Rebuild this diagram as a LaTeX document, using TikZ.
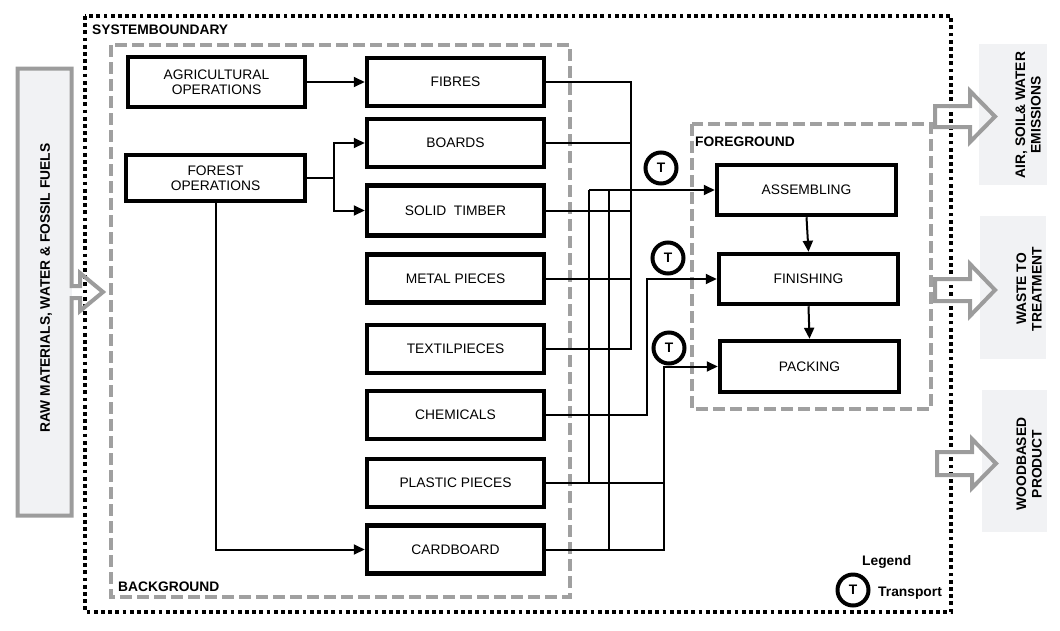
\documentclass[tikz,border=0pt]{standalone}
\usepackage{fontspec}
\setmainfont{Liberation Sans}
\usetikzlibrary{arrows.meta}
\newcommand{\lblfont}{\fontsize{13.8}{15.5}\selectfont}
\definecolor{dashgray}{HTML}{A0A0A0}
\definecolor{arrgray}{HTML}{9C9C9C}
\definecolor{boxfill}{HTML}{F1F2F4}
\begin{document}
\begin{tikzpicture}[x=1pt,y=-1pt,
  proc/.style={draw, line width=4.5pt, minimum width=177pt, minimum height=48pt, inner sep=0pt, align=center, font=\lblfont},
  conn/.style={line width=2pt},
  arr/.style={conn, -{Triangle[length=11pt,width=10pt]}},
  tcirc/.style={circle, draw, line width=4pt, minimum size=31pt, inner sep=0pt, font=\bfseries\lblfont},
  sysline/.style={line width=3.8pt, dash pattern=on 3.8pt off 3.4pt},
  grpline/.style={draw=dashgray, line width=4pt, dash pattern=on 12pt off 5pt},
  bigarrow/.style={draw=arrgray, line width=4pt, line join=miter},
  outbox/.style={fill=boxfill, draw=none},
  bold/.style={font=\bfseries\lblfont, inner sep=0pt},
  rotlbl/.style={rotate=90, align=center, font=\bfseries\lblfont, inner sep=0pt}
]
\useasboundingbox (0,0) rectangle (1060,630);

% system boundary and groups
\draw[sysline] (85,16) rectangle (951,612);
\draw[grpline] (111,45) rectangle (570,597);
\draw[grpline] (692,124) rectangle (931,409);
\node[bold, anchor=base west] (sysl) at (92,34) {SYSTEMBOUNDARY};
\node[bold, anchor=base west] (bgl) at (118,591) {BACKGROUND};
\node[bold, anchor=base west] (fgl) at (695,146) {FOREGROUND};

% input box with arrow
\fill[boxfill] (17.5,68.5) rectangle (71.5,515.5);
\draw[bigarrow] (71.5,286) -- (71.5,68.5) -- (17.5,68.5) -- (17.5,515.5) -- (71.5,515.5) -- (71.5,298)
  -- (80,298) -- (80,311) -- (103,292) -- (80,273) -- (80,286) -- cycle;
\node[rotlbl] (rawl) at (46,288) {RAW MATERIALS, WATER \& FOSSIL FUELS};

% output boxes
\fill[outbox] (979,44) rectangle (1047,185);
\fill[outbox] (980,216) rectangle (1046,359);
\fill[outbox] (982,390) rectangle (1047,532);
\node[rotlbl] (airl) at (1028,115) {AIR, SOIL\& WATER\\EMISSIONS};
\node[rotlbl] (wastel) at (1029,289) {WASTE TO\\TREATMENT};
\node[rotlbl] (woodl) at (1029,464) {WOODBASED\\PRODUCT};

% output arrows
\draw[bigarrow] (935,106) -- (970,106) -- (970,91) -- (995,116.5) -- (970,142) -- (970,127) -- (935,127) -- cycle;
\draw[bigarrow] (935,279) -- (970,279) -- (970,264) -- (995,290) -- (970,316) -- (970,301) -- (935,301) -- cycle;
\draw[bigarrow] (937,452) -- (972,452) -- (972,439) -- (996,463.5) -- (972,488) -- (972,475) -- (937,475) -- cycle;

% process boxes
\node[proc, minimum height=50pt] (agri) at (216.5,82) {AGRICULTURAL\\OPERATIONS};
\node[proc, minimum width=179pt, minimum height=46pt] (forest) at (215.5,178) {FOREST\\OPERATIONS};
\node[proc] (fibres) at (455.5,82) {FIBRES};
\node[proc] (boards) at (455.5,143) {BOARDS};
\node[proc, minimum height=50pt] (solid) at (455.5,210.5) {SOLID\ \ TIMBER};
\node[proc] (metal) at (455.5,278.5) {METAL PIECES};
\node[proc] (textil) at (455.5,349) {TEXTILPIECES};
\node[proc] (chem) at (455.5,415) {CHEMICALS};
\node[proc] (plastic) at (455.5,483) {PLASTIC PIECES};
\node[proc] (card) at (455.5,549.5) {CARDBOARD};
\node[proc, minimum width=179pt, minimum height=50pt] (assem) at (806.5,190) {ASSEMBLING};
\node[proc, minimum width=179pt, minimum height=50pt] (fin) at (808.5,279) {FINISHING};
\node[proc, minimum width=179pt, minimum height=51pt] (pack) at (809.5,366.5) {PACKING};

% bus coordinates
\coordinate (split) at (334,0);
\coordinate (bA) at (631,0);
\coordinate (bB) at (589,0);
\coordinate (bC) at (609,0);
\coordinate (bD) at (647,0);
\coordinate (bE) at (664,0);

% background connections
\draw[arr] (agri.east) -- (fibres.west);
\draw[conn] (forest.east) -- (split |- forest.east);
\draw[arr] (split |- forest.east) |- (boards.west);
\draw[arr] (split |- forest.east) |- (solid.west);
\draw[arr] (forest.south) |- (card.west);

% to assembling
\draw[conn] (fibres.east) -| (bA |- textil.east) -- (textil.east);
\draw[conn] (boards.east) -- (bA |- boards.east);
\draw[conn] (solid.east) -- (bA |- solid.east);
\draw[conn] (metal.east) -- (bA |- metal.east);
\draw[arr] (bB |- assem.west) -- (assem.west);
\draw[conn] (bB |- assem.west) |- (plastic.east);
\draw[conn] (bC |- assem.west) |- (card.east);
% to finishing
\draw[arr] (chem.east) -| (bD |- fin.west) -- (fin.west);
% to packing
\draw[arr] (card.east) -| (bE |- pack.west) -- (pack.west);
\draw[conn] (plastic.east) -- (bE |- plastic.east);

% foreground flow
\draw[arr] (assem.south) -- (fin.north);
\draw[arr] (fin.south) -- (pack.north);

% transport circles
\node[tcirc] (t1) at (661,168) {T};
\node[tcirc] (t2) at (668,258) {T};
\node[tcirc] (t3) at (669,348) {T};

% legend
\node[bold, anchor=west] (legl) at (862,562) {Legend};
\node[tcirc] (tl) at (853,590) {T};
\node[bold, anchor=west] (trl) at (878,593) {Transport};
\end{tikzpicture}
\end{document}
